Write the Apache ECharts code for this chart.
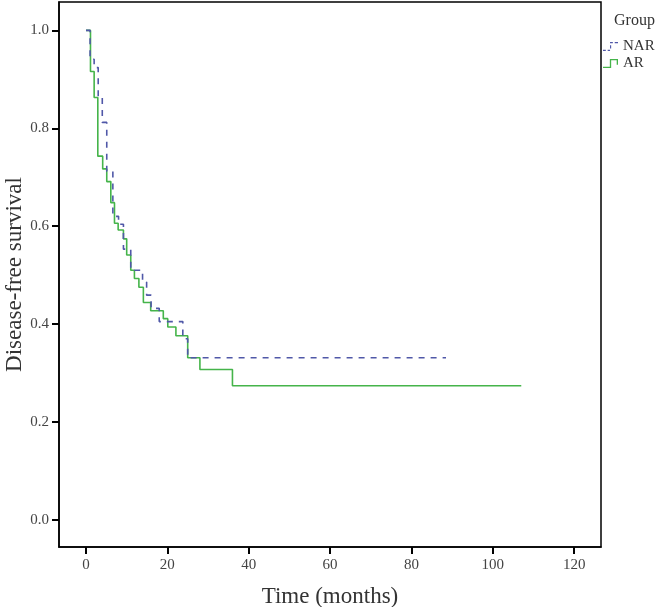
<!DOCTYPE html>
<html>
<head>
<meta charset="utf-8">
<script src="https://cdn.jsdelivr.net/npm/echarts@6/dist/echarts.min.js"></script>
<style>html,body{margin:0;padding:0;background:#fff;}#c{width:664px;height:607px;}</style>
</head>
<body>
<div id="c"></div>
<script>
// Kaplan-Meier step points: [time (months), survival]
const arTimes = [0, 1.1, 2.0, 2.9, 4.1, 5.1, 6.1, 7.0, 7.9, 9.2, 10.0, 11.0, 11.9, 13.0, 14.1, 15.9, 19.0, 20.1, 22.1, 25.0, 28.0, 36.0, 107.0];
const arSurv  = [1.0, 0.916, 0.863, 0.743, 0.717, 0.691, 0.648, 0.606, 0.592, 0.574, 0.541, 0.510, 0.493, 0.475, 0.444, 0.427, 0.411, 0.394, 0.376, 0.331, 0.307, 0.274, 0.274];
const narTimes = [0, 1.0, 2.0, 3.0, 4.0, 5.1, 6.6, 8.0, 9.2, 11.0, 13.9, 14.9, 16.0, 18.0, 23.8, 25.0, 88.5];
const narSurv  = [1.0, 0.941, 0.924, 0.865, 0.812, 0.712, 0.620, 0.604, 0.553, 0.510, 0.486, 0.459, 0.432, 0.405, 0.370, 0.331, 0.331];
const xTicks = [0, 20, 40, 60, 80, 100, 120];
const yTicks = [0, 0.2, 0.4, 0.6, 0.8, 1.0];
const groupNames = ['NAR', 'AR'];

const FONT = 'Liberation Serif';
const BLUE = '#5058a8';
const GREEN = '#45b44a';
const chart = echarts.init(document.getElementById('c'), null, {renderer: 'canvas'});
const pairs = (t, s) => t.map((v, i) => [v, s[i]]);

const narIcon = 'path://M0,8.6h3v1.4h-3z M5,8.6h2.5v1.4h-2.5z M7.5,4h1.2v3.5h-1.2z M7.5,0.5h3v1.4h-3z M12.5,0.5h3.5v1.4h-3.5z';
const arIcon = 'path://M0,8.6h7.5v1.4h-7.5z M7.3,0.5h1.4v9.5h-1.4z M7.3,0.5h8.7v1.4h-8.7z M14.6,0.5h1.4v6h-1.4z';

chart.setOption({
  animation: false,
  backgroundColor: '#fff',
  title: {
    text: 'Group', left: 609, top: 8,
    textStyle: {fontFamily: FONT, fontSize: 16, fontWeight: 'normal', color: '#333'}
  },
  legend: {
    data: [
      {name: groupNames[0], icon: narIcon, itemStyle: {color: BLUE}},
      {name: groupNames[1], icon: arIcon, itemStyle: {color: GREEN}}
    ],
    orient: 'vertical', left: 603, top: 39,
    itemWidth: 15, itemHeight: 10, itemGap: 2, padding: 0,
    textStyle: {fontFamily: FONT, fontSize: 15, color: '#333'}
  },
  grid: {
    left: 59, top: 2, right: 63, bottom: 60,
    outerBoundsMode: 'none', containLabel: false,
    show: true, borderColor: '#000', borderWidth: 1.5, backgroundColor: '#fff'
  },
  xAxis: {
    type: 'value', min: -6.64, max: 126.6,
    name: 'Time (months)', nameLocation: 'middle', nameGap: 38, nameMoveOverlap: false,
    nameTextStyle: {fontFamily: FONT, fontSize: 23, color: '#333'},
    splitLine: {show: false},
    axisLine: {show: true, onZero: false, lineStyle: {color: '#000', width: 1.5}},
    axisTick: {show: true, inside: false, length: 7, customValues: xTicks, lineStyle: {color: '#000', width: 2}},
    axisLabel: {customValues: xTicks, margin: 11, fontFamily: FONT, fontSize: 15, color: '#444'}
  },
  yAxis: {
    type: 'value', min: -0.0556, max: 1.058,
    name: 'Disease-free survival', nameLocation: 'middle', nameGap: 33, nameRotate: 90, nameMoveOverlap: false,
    nameTextStyle: {fontFamily: FONT, fontSize: 23, color: '#333'},
    splitLine: {show: false},
    axisLine: {show: true, onZero: false, lineStyle: {color: '#000', width: 1.5}},
    axisTick: {show: true, inside: false, length: 7, customValues: yTicks, lineStyle: {color: '#000', width: 2}},
    axisLabel: {customValues: yTicks, margin: 10, fontFamily: FONT, fontSize: 15, color: '#444',
      formatter: v => v.toFixed(1)}
  },
  series: [
    {
      name: groupNames[0], type: 'line', step: 'end', symbol: 'none', z: 3,
      data: pairs(narTimes, narSurv),
      lineStyle: {color: BLUE, width: 1.6, type: [6, 6]},
      itemStyle: {color: BLUE}
    },
    {
      name: groupNames[1], type: 'line', step: 'end', symbol: 'none', z: 2,
      data: pairs(arTimes, arSurv),
      lineStyle: {color: GREEN, width: 1.6},
      itemStyle: {color: GREEN}
    }
  ]
});
</script>
</body>
</html>
